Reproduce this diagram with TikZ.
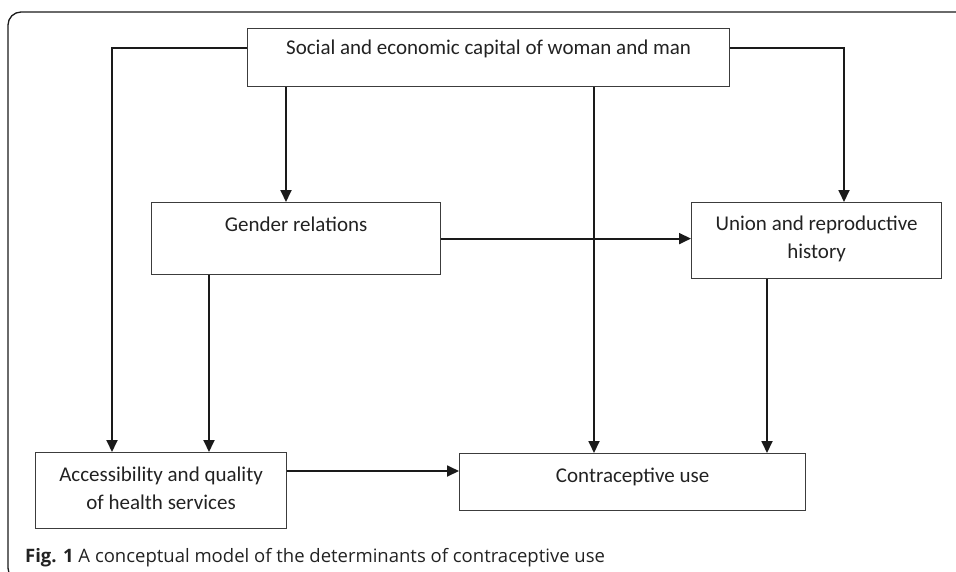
\documentclass[tikz,border=0pt]{standalone}
\usepackage{fontspec}
\setmainfont{Carlito}
\newfontfamily\capfont{Open Sans}
\usetikzlibrary{arrows.meta,calc}
\definecolor{ink}{HTML}{1A1A1A}
\definecolor{txt}{HTML}{222222}
\tikzset{
  box/.style={draw=ink!85, line width=1.2pt, rectangle, inner xsep=0pt, inner ysep=0pt,
    anchor=north west, text=txt, font=\fontsize{21}{28}\selectfont},
  arr/.style={draw=ink, line width=1.8pt, -{Triangle[length=12pt,width=11pt]}},
  ln/.style={draw=ink, line width=1.8pt}
}
\newcommand{\tl}[1]{\begin{tabular}[t]{@{}c@{}}#1\end{tabular}}
\begin{document}
\begin{tikzpicture}[x=1pt,y=-1pt]
\useasboundingbox (0,0) rectangle (956,571);
\begin{scope}
\clip (0,0) rectangle (956,571);
\draw[ink, line width=1.3pt, rounded corners=13pt] (8,12) rectangle (990,581);
\end{scope}
\node[box, minimum width=482pt, text height=26pt, text depth=32pt] (soc) at (247,28) {\tl{Social and economic capital of woman and man}};
\node[box, minimum width=289pt, text height=29pt, text depth=43pt] (gen) at (151,202) {\tl{Gender relations}};
\node[box, minimum width=250pt, text height=28pt, text depth=48pt] (uni) at (691,202) {\tl{Union and reproductive\\history}};
\node[box, minimum width=251pt, text height=29pt, text depth=47pt] (acc) at (35,452) {\tl{Accessibility and quality\\of health services}};
\node[box, minimum width=346pt, text height=29pt, text depth=28pt] (con) at (459,453) {\tl{Contraceptive use}};
\node[anchor=base west, inner sep=0pt, text=txt, font=\capfont\fontsize{18.5}{22}\selectfont] (cap) at (25,562) {\textbf{Fig. 1} A conceptual model of the determinants of contraceptive use};
\draw[arr] ([yshift=-20pt]soc.north west) -| ([xshift=77pt]acc.north west);
\draw[arr] ([yshift=-20pt]soc.north east) -| ([xshift=153pt]uni.north west);
\draw[arr] ([xshift=39pt]soc.south west) -- ([xshift=39pt]soc.south west |- gen.north);
\draw[arr] ([xshift=347pt]soc.south west) -- ([xshift=347pt]soc.south west |- con.north);
\draw[arr] (gen.east) -- (gen.east -| uni.west);
\draw[arr] ([xshift=58pt]gen.south west) -- ([xshift=58pt]gen.south west |- acc.north);
\draw[arr] ([xshift=76pt]uni.south west) -- ([xshift=76pt]uni.south west |- con.north);
\draw[arr] ([yshift=-19pt]acc.north east) -- ([yshift=-19pt]acc.north east -| con.west);
\end{tikzpicture}
\end{document}
